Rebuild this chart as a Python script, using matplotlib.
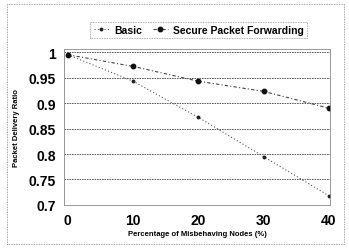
import matplotlib
matplotlib.use("Agg")
import matplotlib.pyplot as plt
from matplotlib.patches import Rectangle

x_vals = [0, 10, 20, 30, 40]
basic = [0.995, 0.943, 0.872, 0.795, 0.718]
secure = [0.995, 0.972, 0.943, 0.923, 0.89]
yticks = [0.7, 0.75, 0.8, 0.85, 0.9, 0.95, 1]
ytick_labels = ["0.7", "0.75", "0.8", "0.85", "0.9", "0.95", "1"]
xticks = [0, 10, 20, 30, 40]

plt.rcParams['font.family'] = ['Liberation Sans', 'DejaVu Sans']
fig = plt.figure(figsize=(3.49, 2.53), dpi=100)
ax = fig.add_axes([0.183, 0.186, 0.763, 0.618])

ax.plot(x_vals, basic, color='#555555', linestyle=(0, (1, 2)), linewidth=0.8,
        marker='o', markersize=1.8, markerfacecolor='#222222', markeredgecolor='#222222',
        label='Basic')
ax.plot(x_vals, secure, color='#444444', linestyle=(0, (3, 2, 1, 2)), linewidth=0.8,
        marker='o', markersize=3.2, markerfacecolor='#111111', markeredgecolor='#111111',
        label='Secure Packet Forwarding')

ax.set_xlim(-0.6, 40.2)
ax.set_ylim(0.7, 1.007)
ax.set_yticks(yticks)
ax.set_yticklabels(ytick_labels)
ax.set_xticks(xticks)
ax.tick_params(axis='both', length=0, labelsize=10, pad=6)
for lab in ax.get_xticklabels() + ax.get_yticklabels():
    lab.set_fontweight('bold')
ax.grid(axis='y', color='#444444', linestyle=(0, (2, 1)), linewidth=0.6)
for s in ax.spines.values():
    s.set_color('#888888')
    s.set_linestyle((0, (1, 1)))
    s.set_linewidth(0.6)

ax.set_xlabel('Percentage of Misbehaving Nodes (%)', fontsize=5.5, fontweight='bold', labelpad=2)
ax.set_ylabel('Packet Delivery Ratio', fontsize=5.5, fontweight='bold', labelpad=6)

leg = fig.legend(loc='center', bbox_to_anchor=(0.57, 0.877), ncol=2, frameon=True,
                 prop={'size': 7.5, 'weight': 'bold'}, handlelength=1.5,
                 columnspacing=1.0, handletextpad=0.5, borderpad=0.3, fancybox=False)
leg.get_frame().set_edgecolor('#777777')
leg.get_frame().set_linestyle((0, (1, 1)))
leg.get_frame().set_linewidth(0.6)

fig.patches.append(Rectangle((0.02, 0.03), 0.965, 0.95, transform=fig.transFigure,
                             fill=False, edgecolor='#888888', linestyle=(0, (1, 1)),
                             linewidth=0.6))

fig.savefig('out.png', dpi=100)
